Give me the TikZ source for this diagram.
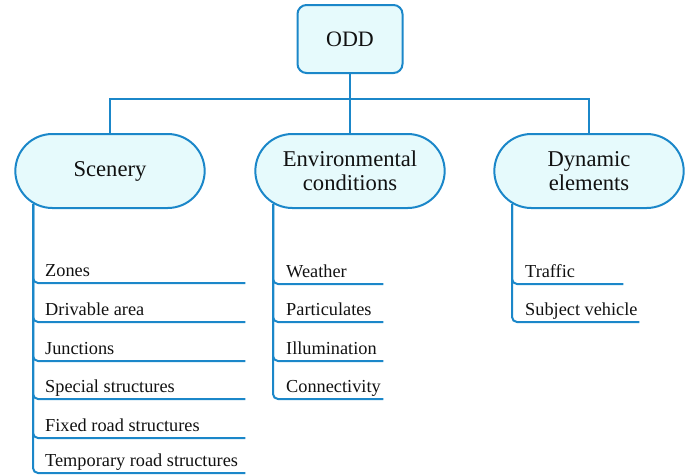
\documentclass[tikz,border=0pt]{standalone}
\usepackage{fontspec}
\setmainfont{Liberation Serif}
\usetikzlibrary{shapes.misc}
\definecolor{odblue}{HTML}{1B87C9}
\definecolor{odfill}{HTML}{E6FAFC}
\definecolor{odtext}{HTML}{111111}
\tikzset{
  conn/.style={draw=odblue, line width=2pt},
  rootbox/.style={draw=odblue, line width=2pt, fill=odfill, rounded corners=9pt,
    minimum width=105pt, minimum height=68pt, text=odtext,
    font=\fontsize{22}{24}\selectfont},
  catbox/.style={rounded rectangle, draw=odblue, line width=2pt, fill=odfill,
    minimum width=196pt, minimum height=74pt, align=center, text=odtext,
    font=\fontsize{22.6}{24.5}\selectfont},
  itembox/.style={anchor=south west, inner xsep=0pt, inner ysep=2pt,
    text height=13pt, text depth=4pt, text=odtext,
    font=\fontsize{18.3}{21}\selectfont},
  itemline/.style={conn, rounded corners=5pt}
}
\newcommand{\itemtext}[2]{\makebox[#1][l]{#2}}
\begin{document}
\begin{tikzpicture}[x=1pt, y=-1pt]
\useasboundingbox (0,0) rectangle (695,474);
% category and root nodes
\node[rootbox] (odd) at (350,39) {ODD};
\node[catbox] (scen) at (110,171) {Scenery};
\node[catbox] (env) at (350,171) {Environmental\\conditions};
\node[catbox] (dyn) at (589,171) {Dynamic\\elements};
% bus
\draw[conn] (odd.south) -- ++(0,25) -| (scen.north);
\draw[conn] (odd.south) -- (env.north);
\draw[conn] (odd.south) -- ++(0,25) -| (dyn.north);
% feet of the item spines
\coordinate (scfoot) at (33,204);
\coordinate (envfoot) at (273,204);
\coordinate (dynfoot) at (512,204);
% Scenery items
\node[itembox] (s1) at (45,283) {\itemtext{200pt}{Zones}};
\node[itembox] (s2) at (45,322) {\itemtext{200pt}{Drivable area}};
\node[itembox] (s3) at (45,361) {\itemtext{200pt}{Junctions}};
\node[itembox] (s4) at (45,399) {\itemtext{200pt}{Special structures}};
\node[itembox] (s5) at (45,438) {\itemtext{200pt}{Fixed road structures}};
\node[itembox] (s6) at (45,473) {\itemtext{200pt}{Temporary road structures}};
\foreach \i in {1,...,6} \draw[itemline] (scfoot) |- (s\i.south east);
% Environmental items
\node[itembox] (e1) at (286,284) {\itemtext{97pt}{Weather}};
\node[itembox] (e2) at (286,322) {\itemtext{97pt}{Particulates}};
\node[itembox] (e3) at (286,361) {\itemtext{97pt}{Illumination}};
\node[itembox] (e4) at (286,399) {\itemtext{97pt}{Connectivity}};
\foreach \i in {1,...,4} \draw[itemline] (envfoot) |- (e\i.south east);
% Dynamic items
\node[itembox] (d1) at (525,284) {\itemtext{98pt}{Traffic}};
\node[itembox] (d2) at (525,322) {\itemtext{114pt}{Subject vehicle}};
\foreach \i in {1,2} \draw[itemline] (dynfoot) |- (d\i.south east);
\end{tikzpicture}
\end{document}
